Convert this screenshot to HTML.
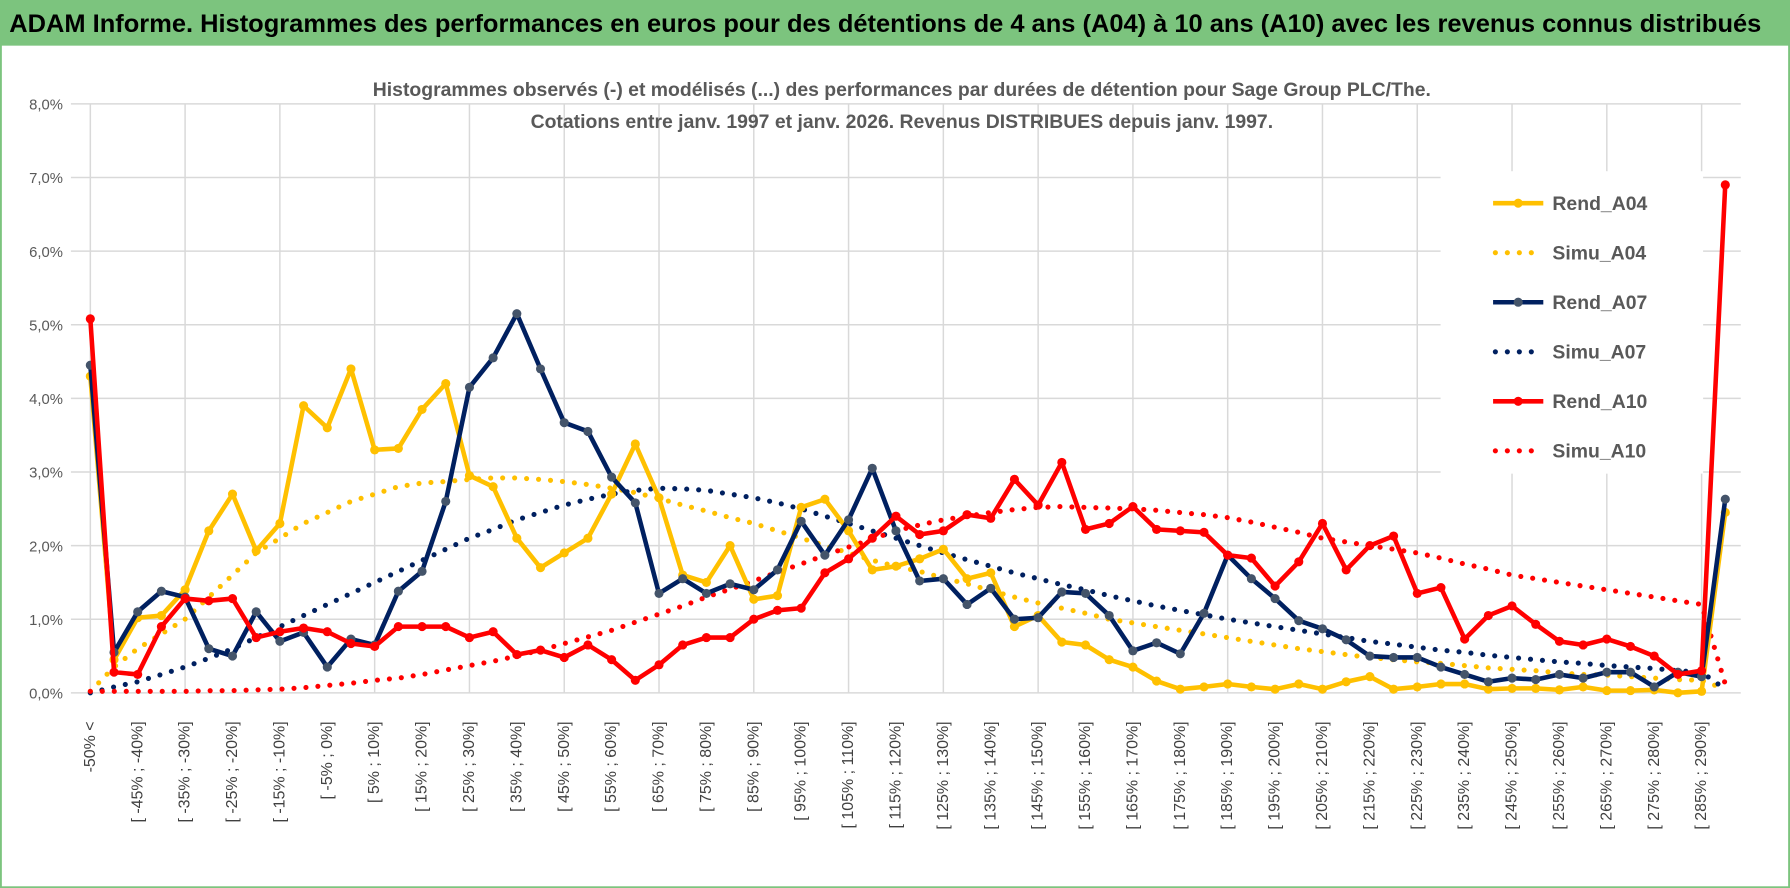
<!DOCTYPE html>
<html><head><meta charset="utf-8">
<style>
html,body{margin:0;padding:0;background:#fff;}
svg{display:block;font-family:"Liberation Sans",sans-serif;}
</style></head>
<body>
<svg id="chart" width="1790" height="888" viewBox="0 0 1568 778" xmlns="http://www.w3.org/2000/svg">
  <rect x="0" y="0" width="1568" height="778" fill="#fff" stroke="#7cc47e" stroke-width="3"/>
  <rect x="0" y="0" width="1568" height="40" fill="#7cc47e"/>
  <text x="8" y="28" font-size="22" font-weight="bold" fill="#000" textLength="1535" lengthAdjust="spacingAndGlyphs">ADAM Informe. Histogrammes des performances en euros pour des détentions de 4 ans (A04) à 10 ans (A10) avec les revenus connus distribués</text>
  <g id="grid"></g>
  <text x="790" y="84" font-size="17" font-weight="bold" fill="#595959" text-anchor="middle">Histogrammes observés (-) et modélisés (...) des performances par durées de détention pour Sage Group PLC/The.</text>
  <text x="790" y="112" font-size="17" font-weight="bold" fill="#595959" text-anchor="middle">Cotations entre janv. 1997 et janv. 2026. Revenus DISTRIBUES depuis janv. 1997.</text>
  <g id="yaxis"></g>
  <g id="xaxis"></g>
  <g id="series"></g>
  <g id="legend"></g>
</svg>
<script>
const categories = ["-50% <","[ -50% ; -45%]","[ -45% ; -40%]","[ -40% ; -35%]","[ -35% ; -30%]","[ -30% ; -25%]","[ -25% ; -20%]","[ -20% ; -15%]","[ -15% ; -10%]","[ -10% ; -5%]","[ -5% ; 0%]","[ 0% ; 5%]","[ 5% ; 10%]","[ 10% ; 15%]","[ 15% ; 20%]","[ 20% ; 25%]","[ 25% ; 30%]","[ 30% ; 35%]","[ 35% ; 40%]","[ 40% ; 45%]","[ 45% ; 50%]","[ 50% ; 55%]","[ 55% ; 60%]","[ 60% ; 65%]","[ 65% ; 70%]","[ 70% ; 75%]","[ 75% ; 80%]","[ 80% ; 85%]","[ 85% ; 90%]","[ 90% ; 95%]","[ 95% ; 100%]","[ 100% ; 105%]","[ 105% ; 110%]","[ 110% ; 115%]","[ 115% ; 120%]","[ 120% ; 125%]","[ 125% ; 130%]","[ 130% ; 135%]","[ 135% ; 140%]","[ 140% ; 145%]","[ 145% ; 150%]","[ 150% ; 155%]","[ 155% ; 160%]","[ 160% ; 165%]","[ 165% ; 170%]","[ 170% ; 175%]","[ 175% ; 180%]","[ 180% ; 185%]","[ 185% ; 190%]","[ 190% ; 195%]","[ 195% ; 200%]","[ 200% ; 205%]","[ 205% ; 210%]","[ 210% ; 215%]","[ 215% ; 220%]","[ 220% ; 225%]","[ 225% ; 230%]","[ 230% ; 235%]","[ 235% ; 240%]","[ 240% ; 245%]","[ 245% ; 250%]","[ 250% ; 255%]","[ 255% ; 260%]","[ 260% ; 265%]","[ 265% ; 270%]","[ 270% ; 275%]","[ 275% ; 280%]","[ 280% ; 285%]","[ 285% ; 290%]","> 290%"];
const rendA04 = [4.3,0.45,1.02,1.05,1.4,2.2,2.7,1.93,2.3,3.9,3.6,4.4,3.3,3.32,3.85,4.2,2.95,2.8,2.1,1.7,1.9,2.1,2.7,3.38,2.65,1.6,1.5,2.0,1.27,1.32,2.52,2.63,2.2,1.67,1.72,1.82,1.95,1.55,1.63,0.9,1.05,0.69,0.65,0.45,0.35,0.16,0.05,0.08,0.12,0.08,0.05,0.12,0.05,0.15,0.22,0.05,0.08,0.12,0.12,0.05,0.06,0.06,0.04,0.08,0.03,0.03,0.04,0.0,0.02,2.45];
const rendA07 = [4.45,0.55,1.1,1.38,1.3,0.6,0.5,1.1,0.7,0.82,0.35,0.73,0.65,1.38,1.65,2.6,4.15,4.55,5.15,4.4,3.67,3.55,2.93,2.58,1.35,1.55,1.35,1.48,1.4,1.67,2.33,1.87,2.35,3.05,2.2,1.52,1.55,1.2,1.42,1.0,1.02,1.37,1.35,1.05,0.57,0.68,0.53,1.08,1.87,1.55,1.28,0.98,0.87,0.72,0.5,0.48,0.48,0.35,0.25,0.15,0.2,0.18,0.25,0.2,0.28,0.28,0.08,0.28,0.22,2.63];
const rendA10 = [5.08,0.28,0.25,0.9,1.28,1.25,1.28,0.75,0.83,0.88,0.83,0.67,0.63,0.9,0.9,0.9,0.75,0.83,0.52,0.58,0.48,0.65,0.45,0.17,0.38,0.65,0.75,0.75,1.0,1.12,1.15,1.63,1.82,2.1,2.4,2.15,2.2,2.42,2.37,2.9,2.55,3.13,2.22,2.3,2.53,2.22,2.2,2.18,1.87,1.83,1.45,1.78,2.3,1.67,2.0,2.13,1.35,1.43,0.73,1.05,1.18,0.93,0.7,0.65,0.73,0.63,0.5,0.25,0.3,6.9];
const simuA04 = [0.02,0.35,0.6,0.8,1.0,1.3,1.6,1.9,2.1,2.3,2.45,2.6,2.7,2.8,2.85,2.87,2.9,2.92,2.92,2.9,2.87,2.83,2.78,2.72,2.64,2.55,2.47,2.38,2.3,2.2,2.1,2.0,1.9,1.8,1.72,1.65,1.56,1.48,1.39,1.3,1.22,1.15,1.08,1.0,0.95,0.9,0.85,0.8,0.75,0.7,0.65,0.6,0.56,0.52,0.48,0.45,0.42,0.4,0.37,0.34,0.32,0.3,0.27,0.25,0.24,0.22,0.2,0.18,0.17,0.05];
const simuA07 = [0.0,0.08,0.15,0.25,0.35,0.47,0.6,0.75,0.9,1.05,1.2,1.35,1.5,1.65,1.8,1.95,2.1,2.22,2.35,2.45,2.55,2.63,2.7,2.75,2.78,2.77,2.75,2.7,2.65,2.58,2.5,2.4,2.3,2.2,2.1,2.0,1.9,1.81,1.72,1.63,1.55,1.47,1.4,1.32,1.25,1.18,1.12,1.06,1.0,0.95,0.9,0.85,0.8,0.75,0.7,0.66,0.62,0.58,0.55,0.51,0.48,0.45,0.42,0.4,0.37,0.35,0.33,0.3,0.28,0.05];
const simuA10 = [0.02,0.02,0.02,0.02,0.02,0.03,0.03,0.04,0.05,0.07,0.1,0.13,0.17,0.2,0.25,0.31,0.37,0.43,0.5,0.58,0.67,0.76,0.85,0.96,1.07,1.18,1.3,1.41,1.52,1.64,1.75,1.87,1.98,2.09,2.2,2.28,2.35,2.4,2.45,2.49,2.52,2.53,2.52,2.51,2.5,2.48,2.45,2.42,2.38,2.32,2.25,2.18,2.1,2.05,2.0,1.95,1.9,1.83,1.75,1.68,1.6,1.55,1.5,1.45,1.4,1.35,1.3,1.25,1.2,0.12];
const yTicks = [0,1,2,3,4,5,6,7,8];
const yTickLabels = ["0,0%","1,0%","2,0%","3,0%","4,0%","5,0%","6,0%","7,0%","8,0%"];
const seriesNames = ["Rend_A04","Simu_A04","Rend_A07","Simu_A07","Rend_A10","Simu_A10"];

const NS = "http://www.w3.org/2000/svg";
const X0 = 79, DX = 20.76, Y0 = 607, DY = 64.5;
function xs(i){ return X0 + DX * i; }
function ys(v){ return Y0 - DY * v; }
function mk(tag, attrs, parent){ const e = document.createElementNS(NS, tag); for (const k in attrs) e.setAttribute(k, attrs[k]); parent.appendChild(e); return e; }

const grid = document.getElementById('grid');
yTicks.forEach(function(t){
  const l = mk('line', {x1: 62, x2: 1525, y1: ys(t), y2: ys(t), stroke: '#d9d9d9', 'stroke-width': 1.3}, grid);
  
  
});
for (let i = 0; i < categories.length; i += 4) {
  const l = mk('line', {x1: xs(i), x2: xs(i), y1: ys(8), y2: ys(0), stroke: '#d9d9d9', 'stroke-width': 1.3}, grid);
  
  
}

const yax = document.getElementById('yaxis');
yTicks.forEach(function(t, k){
  const tx = mk('text', {x: 55, y: ys(t) + 5, 'font-size': 13, fill: '#595959', 'text-anchor': 'end'}, yax);
  tx.textContent = yTickLabels[k];
  
  
});

const xax = document.getElementById('xaxis');
for (let i = 0; i < categories.length; i += 2) {
  const x = xs(i) + 4, y = 632;
  const tx = mk('text', {x: x, y: y, 'font-size': 14, fill: '#404040', 'text-anchor': 'end', transform: 'rotate(-90 ' + x + ' ' + y + ')'}, xax);
  tx.textContent = categories[i];
  
  
}

const ser = document.getElementById('series');
function pathD(arr){ return arr.map(function(v, i){ return (i ? 'L' : 'M') + xs(i).toFixed(1) + ' ' + ys(v).toFixed(1); }).join(' '); }
function dotted(arr, color, name){
  const p = mk('path', {d: pathD(arr), fill: 'none', stroke: color, 'stroke-width': 4.5, 'stroke-linecap': 'round', 'stroke-dasharray': '0 10.5'}, ser);
  
  
}
function solid(arr, color, mcolor, name){
  const p = mk('path', {d: pathD(arr), fill: 'none', stroke: color, 'stroke-width': 4, 'stroke-linejoin': 'round'}, ser);
  
  
  arr.forEach(function(v, i){
    const c = mk('circle', {cx: xs(i), cy: ys(v), r: 4, fill: mcolor}, ser);
    
    
  });
}
dotted(simuA04, '#ffc000', 'simu-a04-line');
dotted(simuA07, '#002060', 'simu-a07-line');
dotted(simuA10, '#ff0000', 'simu-a10-line');
solid(rendA04, '#ffc000', '#ffc000', 'rend-a04-line');
solid(rendA07, '#002060', '#44546a', 'rend-a07-line');
solid(rendA10, '#ff0000', '#ff0000', 'rend-a10-line');

const lg = document.getElementById('legend');
const bg = mk('rect', {x: 1262, y: 150, width: 230, height: 265, fill: '#fff'}, lg);


const lcolors = ['#ffc000','#ffc000','#002060','#002060','#ff0000','#ff0000'];
const lmark = ['#ffc000','#ffc000','#44546a','#44546a','#ff0000','#ff0000'];
seriesNames.forEach(function(n, k){
  const y = 178 + 43.4 * k;
  const g = mk('g', {}, lg);
  
  
  if (k % 2 === 0) {
    mk('line', {x1: 1308, x2: 1352, y1: y, y2: y, stroke: lcolors[k], 'stroke-width': 4}, g);
    mk('circle', {cx: 1330, cy: y, r: 4, fill: lmark[k]}, g);
  } else {
    mk('line', {x1: 1310, x2: 1352, y1: y, y2: y, stroke: lcolors[k], 'stroke-width': 4.5, 'stroke-linecap': 'round', 'stroke-dasharray': '0 10.5'}, g);
  }
  const t = mk('text', {x: 1360, y: y + 6, 'font-size': 17, 'font-weight': 'bold', fill: '#595959'}, g);
  t.textContent = n;
});
</script>
</body></html>
